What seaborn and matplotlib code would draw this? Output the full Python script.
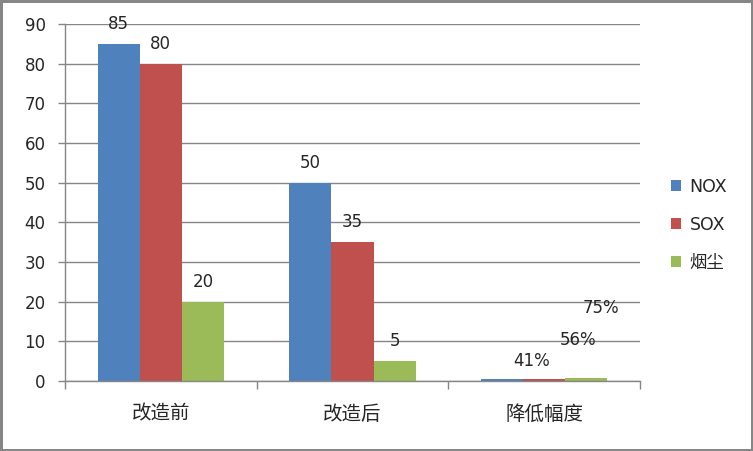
import matplotlib
matplotlib.use("Agg")
import matplotlib.pyplot as plt
import seaborn as sns
import pandas as pd
import numpy as np

categories = ["改造前", "改造后", "降低幅度"]
series = ["NOX", "SOX", "烟尘"]
nox = [85, 50, 0.41]
sox = [80, 35, 0.56]
dust = [20, 5, 0.75]
pct_labels = ["41%", "56%", "75%"]
yticks = [0, 10, 20, 30, 40, 50, 60, 70, 80, 90]
colors = ["#4F81BD", "#C0504D", "#9BBB59"]

sns.set_theme(style="white")
plt.rcParams["font.family"] = ["DejaVu Sans", "Noto Sans CJK SC"]

rows = []
for i, c in enumerate(categories):
    for s, vals in zip(series, [nox, sox, dust]):
        rows.append({"cat": c, "series": s, "value": vals[i]})
df = pd.DataFrame(rows)

fig = plt.figure(figsize=(7.53, 4.51), dpi=100)
fig.patch.set_edgecolor("#868686")
fig.patch.set_linewidth(2.5)
ax = fig.add_axes([65 / 753, 70 / 451, (640 - 65) / 753, (381 - 24) / 451])

sns.barplot(data=df, x="cat", y="value", hue="series", palette=colors,
            width=0.66, saturation=1, ax=ax, errorbar=None, legend=True,
            linewidth=0, edgecolor="none")

ax.set_ylim(0, 90)
ax.set_xlim(-0.5, 2.5)
ax.set_yticks(yticks)
ax.yaxis.grid(True, color="#868686", linewidth=1)
ax.set_axisbelow(True)
ax.set_xlabel("")
ax.set_ylabel("")
for sp in ["top", "right"]:
    ax.spines[sp].set_visible(False)
for sp in ["left", "bottom"]:
    ax.spines[sp].set_color("#868686")
    ax.spines[sp].set_linewidth(1)

ax.tick_params(axis="y", which="major", length=5, width=1, color="#868686",
               labelsize=12, pad=9, direction="out", left=True)
ax.set_xticks(np.arange(len(categories)))
ax.set_xticklabels(categories)
ax.set_xticks([-0.5, 0.5, 1.5, 2.5], minor=True)
ax.tick_params(axis="x", which="major", length=0, labelsize=14, pad=17)
ax.tick_params(axis="x", which="minor", length=6, width=1, color="#868686",
               direction="out", bottom=True)

# value labels for first two groups
for container in ax.containers:
    labels = [f"{v:.0f}" if v >= 1 else "" for v in container.datavalues]
    ax.bar_label(container, labels=labels, padding=8, fontsize=12)

# percent labels for the third group (placed as in the original)
bw = 0.66 / 3
third_x = [2 - bw * 0.3, 2 + bw * 0.8, 2 + bw * 1.35]
third_y = [5.0, 10.3, 18.4]
for x, y, t in zip(third_x, third_y, pct_labels):
    ax.text(x, y, t, ha="center", va="center", fontsize=12)

handles, labels = ax.get_legend_handles_labels()
ax.legend(handles, labels, loc="center left", bbox_to_anchor=(655 / 753, 1 - 225 / 451),
          bbox_transform=fig.transFigure, frameon=False, fontsize=12.5,
          handlelength=0.6, handleheight=0.6, handletextpad=0.5, labelspacing=1.15)

fig.savefig("out.png", dpi=100)
